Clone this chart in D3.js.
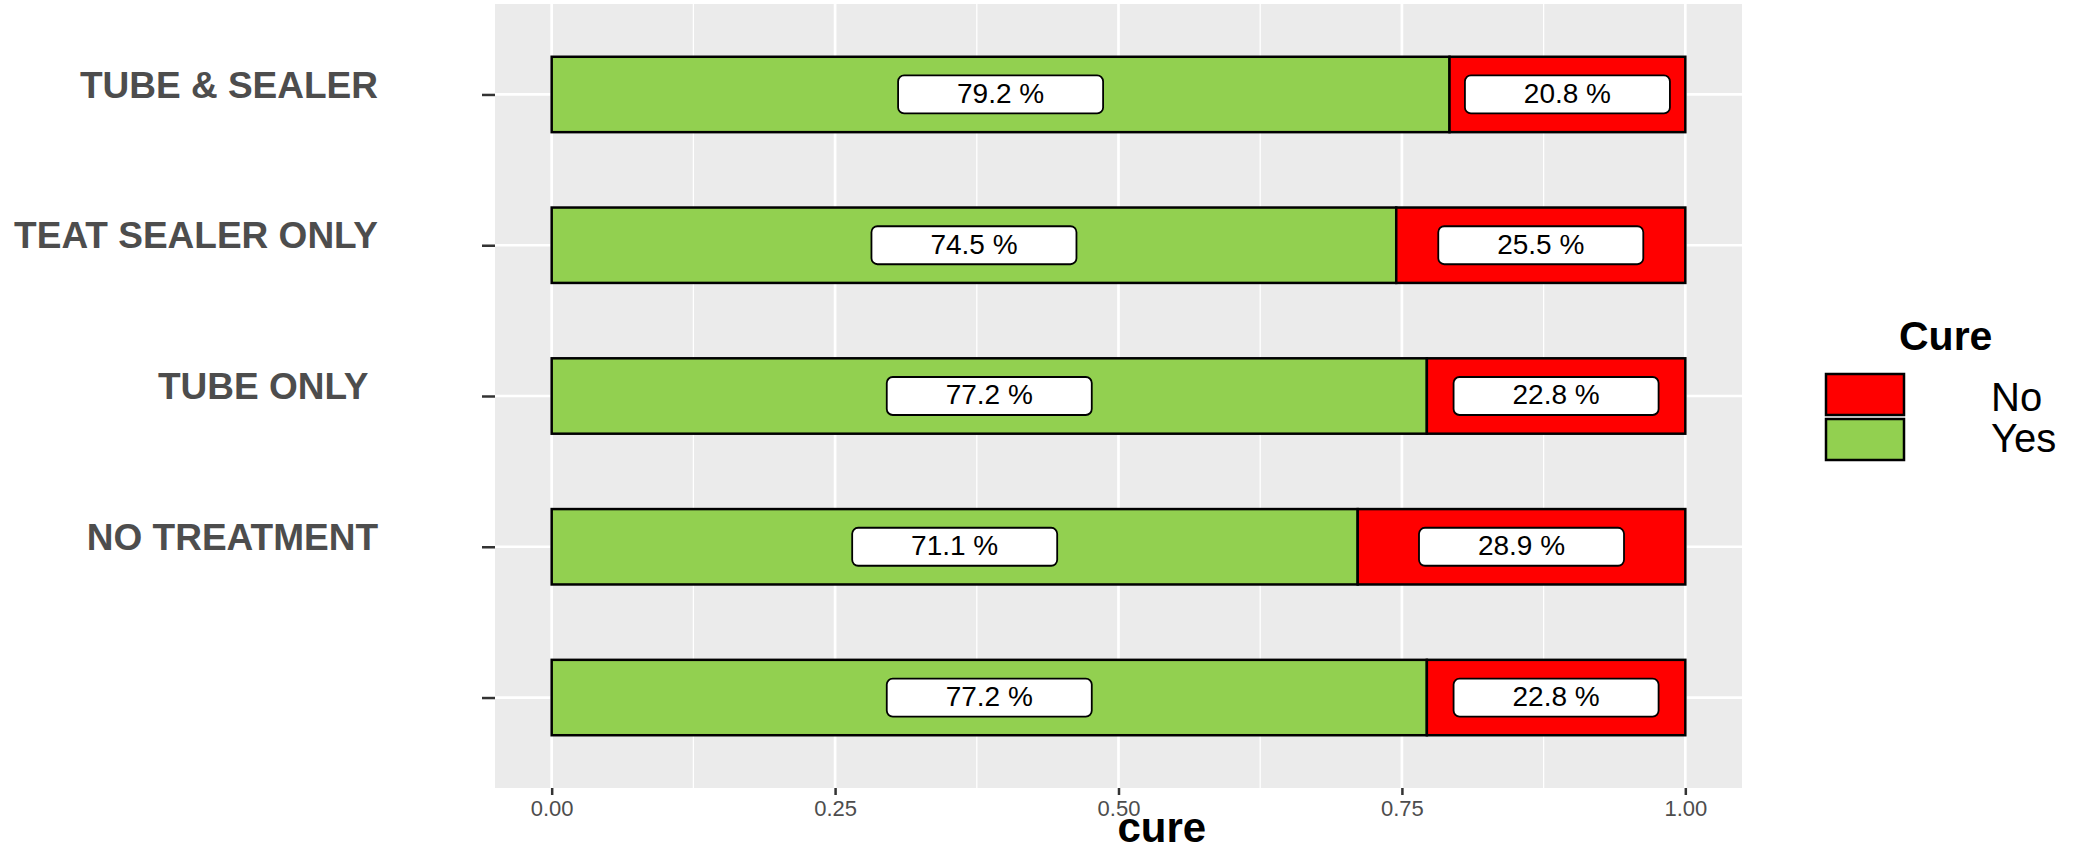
<!DOCTYPE html>
<html>
<head>
<meta charset="utf-8">
<script src="https://cdn.jsdelivr.net/npm/d3@7/dist/d3.min.js"></script>
<style>
  html, body { margin: 0; padding: 0; background: #ffffff; }
  svg { display: block; font-family: "Liberation Sans", Arial, sans-serif; }
</style>
</head>
<body>
<svg id="chart" width="2085" height="850"></svg>
<script>
// Treatment groups, top to bottom (the last row carries no name)
const categories = ["TUBE & SEALER", "TEAT SEALER ONLY", "TUBE ONLY ", "NO TREATMENT", ""];
// Share of cured (Yes) and not cured (No) quarters, in percent
const yesPct = [79.2, 74.5, 77.2, 71.1, 77.2];
const noPct  = [20.8, 25.5, 22.8, 28.9, 22.8];
const xTicks = [0, 0.25, 0.5, 0.75, 1];
const legendKeys = ["No", "Yes"];
const colors = { No: "#FF0000", Yes: "#92D050" };

const svg = d3.select("#chart");

// Panel area
const panel = { left: 495, right: 1742, top: 4, bottom: 788 };

const x = d3.scaleLinear()
  .domain([-0.05, 1.05])
  .range([panel.left, panel.right]);

const rowKeys = categories.map((c, i) => "r" + i);
const y = d3.scalePoint()
  .domain(rowKeys)
  .range([panel.top, panel.bottom])
  .padding(0.6);
const barH = y.step() * 0.5;

// Panel background
svg.append("rect")
  .attr("x", panel.left).attr("y", panel.top)
  .attr("width", panel.right - panel.left)
  .attr("height", panel.bottom - panel.top)
  .attr("fill", "#EBEBEB");

// Minor vertical grid
const minor = [0.125, 0.375, 0.625, 0.875];
svg.append("g").selectAll("line").data(minor).join("line")
  .attr("x1", d => x(d)).attr("x2", d => x(d))
  .attr("y1", panel.top).attr("y2", panel.bottom)
  .attr("stroke", "#ffffff").attr("stroke-width", 1.3);

// Major grid
svg.append("g").selectAll("line").data(xTicks).join("line")
  .attr("x1", d => x(d)).attr("x2", d => x(d))
  .attr("y1", panel.top).attr("y2", panel.bottom)
  .attr("stroke", "#ffffff").attr("stroke-width", 2.7);
svg.append("g").selectAll("line").data(rowKeys).join("line")
  .attr("x1", panel.left).attr("x2", panel.right)
  .attr("y1", d => y(d)).attr("y2", d => y(d))
  .attr("stroke", "#ffffff").attr("stroke-width", 2.7);

// Stacked bars (fill to 100 %)
const rows = categories.map((c, i) => ({
  key: rowKeys[i],
  segs: [
    { name: "Yes", start: 0, end: yesPct[i] / 100, pct: yesPct[i] },
    { name: "No", start: yesPct[i] / 100, end: (yesPct[i] + noPct[i]) / 100, pct: noPct[i] }
  ]
}));

const barG = svg.append("g");
rows.forEach(r => {
  r.segs.forEach(s => {
    barG.append("rect")
      .attr("x", x(s.start))
      .attr("y", y(r.key) - barH / 2)
      .attr("width", x(s.end) - x(s.start))
      .attr("height", barH)
      .attr("fill", colors[s.name])
      .attr("stroke", "#000000")
      .attr("stroke-width", 2.5);
  });
});

// Value labels in rounded boxes
const labG = svg.append("g");
const boxW = 205, boxH = 38;
rows.forEach(r => {
  r.segs.forEach(s => {
    const cx = x((s.start + s.end) / 2);
    const cy = y(r.key);
    labG.append("rect")
      .attr("x", cx - boxW / 2)
      .attr("y", cy - boxH / 2)
      .attr("width", boxW)
      .attr("height", boxH)
      .attr("rx", 6).attr("ry", 6)
      .attr("fill", "#ffffff")
      .attr("stroke", "#000000")
      .attr("stroke-width", 1.8);
    labG.append("text")
      .attr("x", cx)
      .attr("y", cy)
      .attr("dy", "0.3em")
      .attr("text-anchor", "middle")
      .attr("font-size", 28)
      .attr("fill", "#000000")
      .text(s.pct.toFixed(1) + " %");
  });
});

// X axis
const xAxis = svg.append("g")
  .attr("transform", `translate(0,${panel.bottom})`)
  .call(d3.axisBottom(x).tickValues(xTicks).tickFormat(d3.format(".2f")).tickSize(7).tickPadding(5));
xAxis.select(".domain").remove();
xAxis.selectAll(".tick line").attr("stroke", "#333333").attr("stroke-width", 2.5);
xAxis.selectAll(".tick text")
  .attr("fill", "#4D4D4D")
  .attr("font-size", 22)
  .attr("font-family", "'Liberation Sans', Arial, sans-serif");

// Y axis
const yAxis = svg.append("g")
  .attr("transform", `translate(${panel.left},0)`)
  .call(d3.axisLeft(y).tickFormat((d, i) => categories[i]).tickSize(13).tickPadding(104));
yAxis.select(".domain").remove();
yAxis.selectAll(".tick line").attr("stroke", "#333333").attr("stroke-width", 2.5);
yAxis.selectAll(".tick text")
  .attr("fill", "#4D4D4D")
  .attr("font-size", 37)
  .attr("font-weight", "bold")
  .attr("dy", "0.07em")
  .style("white-space", "pre")
  .attr("font-family", "'Liberation Sans', Arial, sans-serif");

// X axis title
svg.append("text")
  .attr("x", x(0.5) - 1)
  .attr("y", 842)
  .attr("font-size", 42)
  .attr("font-weight", "bold")
  .attr("fill", "#000000")
  .text("cure");

// Legend
const lg = svg.append("g");
lg.append("text")
  .attr("x", 1899).attr("y", 350)
  .attr("font-size", 41).attr("font-weight", "bold")
  .attr("fill", "#000000")
  .text("Cure");
legendKeys.forEach((k, i) => {
  lg.append("rect")
    .attr("x", 1826).attr("y", 374 + i * 45)
    .attr("width", 78).attr("height", 41)
    .attr("fill", colors[k])
    .attr("stroke", "#000000").attr("stroke-width", 2.5);
  lg.append("text")
    .attr("x", 1991).attr("y", 411 + i * 41)
    .attr("font-size", 40)
    .attr("fill", "#000000")
    .text(k);
});
</script>
</body>
</html>
